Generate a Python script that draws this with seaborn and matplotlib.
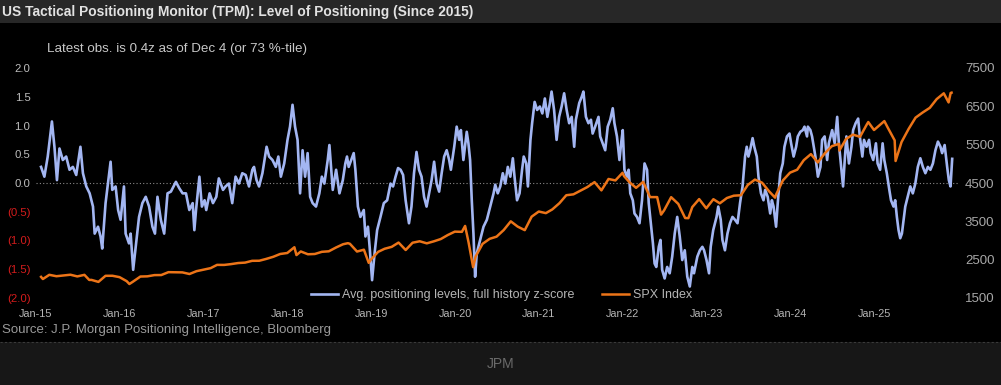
import numpy as np
import pandas as pd
import matplotlib
matplotlib.use("Agg")
import matplotlib.pyplot as plt
import matplotlib.dates as mdates
from matplotlib.patches import Rectangle
from matplotlib.lines import Line2D
import seaborn as sns

# ---------------- data ----------------
tpm_years = [
    2015.06, 2015.10, 2015.14, 2015.19, 2015.22, 2015.25, 2015.28, 2015.32, 2015.36, 2015.40,
    2015.44, 2015.48, 2015.53, 2015.56, 2015.60, 2015.64, 2015.68, 2015.70, 2015.74, 2015.77,
    2015.79, 2015.83, 2015.89, 2015.91, 2015.95, 2015.98, 2016.01, 2016.05, 2016.07, 2016.11,
    2016.13, 2016.16, 2016.19, 2016.23, 2016.27, 2016.31, 2016.35, 2016.39, 2016.42, 2016.45,
    2016.49, 2016.53, 2016.57, 2016.61, 2016.67, 2016.71, 2016.75,
    2016.79, 2016.83, 2016.87, 2016.89, 2016.91, 2016.95, 2016.98, 2017.01, 2017.03, 2017.07,
    2017.11, 2017.15, 2017.18, 2017.23, 2017.26, 2017.30, 2017.34, 2017.38, 2017.42, 2017.46,
    2017.50, 2017.54, 2017.58, 2017.60, 2017.63, 2017.66, 2017.70, 2017.75, 2017.78, 2017.82,
    2017.86, 2017.89, 2017.92, 2017.96, 2018.00, 2018.03, 2018.06, 2018.09, 2018.12, 2018.15,
    2018.18, 2018.21, 2018.24, 2018.27, 2018.30, 2018.34, 2018.38, 2018.41, 2018.44, 2018.48,
    2018.50, 2018.54, 2018.58, 2018.62, 2018.66, 2018.69,
    2018.71, 2018.73, 2018.79, 2018.81, 2018.84, 2018.87, 2018.91, 2018.93, 2018.96, 2018.98,
    2019.01, 2019.04, 2019.07, 2019.11, 2019.15, 2019.19, 2019.23, 2019.26, 2019.29, 2019.32,
    2019.35, 2019.38, 2019.41, 2019.45, 2019.48, 2019.51, 2019.54, 2019.57, 2019.60, 2019.63,
    2019.66, 2019.69, 2019.72, 2019.75, 2019.78, 2019.81, 2019.84, 2019.87, 2019.90, 2019.93,
    2019.95, 2019.99, 2020.02, 2020.05, 2020.07, 2020.10, 2020.14, 2020.16, 2020.18, 2020.20,
    2020.22, 2020.24, 2020.26, 2020.30, 2020.34, 2020.38, 2020.42, 2020.46, 2020.48, 2020.51,
    2020.54, 2020.57, 2020.60, 2020.63, 2020.66, 2020.69, 2020.71, 2020.74, 2020.77, 2020.80,
    2020.82, 2020.85, 2020.87, 2020.90, 2020.92, 2020.95, 2020.98, 2021.01, 2021.04, 2021.07,
    2021.10, 2021.13, 2021.15, 2021.18, 2021.21, 2021.24, 2021.27, 2021.30, 2021.33, 2021.36,
    2021.39, 2021.42, 2021.44, 2021.48, 2021.51, 2021.53, 2021.56, 2021.59, 2021.62, 2021.64,
    2021.67, 2021.71, 2021.73, 2021.76, 2021.79, 2021.82, 2021.85, 2021.88, 2021.90, 2021.93,
    2021.96, 2021.98, 2022.00, 2022.02, 2022.05, 2022.07, 2022.09, 2022.12, 2022.14, 2022.17,
    2022.20, 2022.23, 2022.26, 2022.29, 2022.31, 2022.34, 2022.36, 2022.38,
    2022.40, 2022.43, 2022.45, 2022.47, 2022.50, 2022.53, 2022.56, 2022.59, 2022.62, 2022.65,
    2022.68, 2022.71, 2022.74, 2022.77, 2022.80, 2022.83, 2022.85, 2022.89, 2022.92, 2022.95,
    2022.97, 2023.00, 2023.03, 2023.05, 2023.08, 2023.12, 2023.14, 2023.17, 2023.19, 2023.22,
    2023.25, 2023.28, 2023.31, 2023.34, 2023.37, 2023.40, 2023.43, 2023.46, 2023.48, 2023.50,
    2023.52, 2023.55, 2023.57, 2023.60, 2023.62, 2023.65, 2023.68, 2023.70, 2023.73, 2023.76,
    2023.78, 2023.80, 2023.83, 2023.85, 2023.88, 2023.91, 2023.93, 2023.96, 2023.99, 2024.01,
    2024.04, 2024.07, 2024.09, 2024.12, 2024.15, 2024.17, 2024.20,
    2024.21, 2024.24, 2024.26, 2024.30, 2024.33, 2024.36, 2024.38, 2024.41, 2024.44, 2024.46,
    2024.50, 2024.53, 2024.56, 2024.58, 2024.61, 2024.63, 2024.65, 2024.67, 2024.70, 2024.73,
    2024.75, 2024.78, 2024.81, 2024.83, 2024.86, 2024.88, 2024.91, 2024.94, 2024.96, 2024.99,
    2025.02, 2025.04, 2025.07, 2025.10, 2025.12, 2025.15, 2025.18, 2025.20, 2025.23, 2025.25,
    2025.27, 2025.29, 2025.31, 2025.33, 2025.35, 2025.37, 2025.41, 2025.43, 2025.46, 2025.49,
    2025.52, 2025.55, 2025.58, 2025.61, 2025.64, 2025.67, 2025.70, 2025.73, 2025.76, 2025.79,
    2025.81, 2025.84, 2025.87, 2025.89, 2025.91, 2025.93,
]
tpm_z = [
    0.28, 0.11, 0.46, 1.07, 0.63, 0.05, 0.60, 0.40, 0.46, 0.23,
    0.28, 0.14, 0.63, 0.17, -0.06, -0.18, -0.41, -0.88, -0.76, -0.93,
    -1.14, -0.35, 0.37, -0.12, -0.06, -0.47, -0.64, -0.06, -0.88, -1.05,
    -0.88, -1.51, -1.11, -0.59, -0.35, -0.24, -0.41, -0.76, -0.88, -0.24,
    -0.64, -0.88, -0.18, -0.15, 0.02, -0.09, -0.18,
    -0.18, -0.47, -0.35, -0.82, -0.47, 0.11, -0.41, -0.30, -0.47, -0.18,
    -0.35, -0.24, 0.08, -0.12, -0.06, -0.01, -0.35, 0.11, -0.01, 0.17,
    0.14, -0.06, 0.23, 0.28, 0.05, -0.06, 0.17, 0.63, 0.46, 0.40,
    0.28, 0.46, 0.11, 0.34, 0.75, 0.98, 1.36, 0.98, 0.75, -0.18,
    0.57, 0.11, 0.52, -0.24, -0.35, -0.41, -0.18, 0.11, -0.01, 0.40,
    0.66, -0.12, 0.23, -0.18, 0.05, 0.34,
    0.46, 0.28, 0.52, 0.23, -0.41, -0.59, -0.47, -0.93, -0.76, -1.11,
    -1.69, -1.22, -0.82, -0.59, -0.35, -0.30, -0.01, -0.06, 0.11, 0.26,
    0.23, 0.14, -0.30, -0.70, -0.41, 0.17, 0.54, 0.23, 0.11, -0.24,
    -0.41, -0.18, 0.05, 0.37, -0.01, -0.15, 0.17, 0.46, 0.57, 0.40,
    0.23, 0.63, 0.98, 0.75, 0.92, 0.40, 0.89, 0.69, 0.40, -0.30,
    -0.88, -1.63, -1.22, -0.99, -0.76, -0.64, -0.41, -0.18, -0.03, -0.18,
    -0.06, 0.17, -0.01, 0.28, 0.11, 0.43, 0.11, -0.30, -0.18, 0.23,
    0.46, 0.34, -0.06, 0.75, 1.04, 1.41, 1.27, 1.33, 1.21, 1.47,
    1.15, 1.39, 1.59, 1.27, 0.75, 1.15, 1.33, 1.56, 1.27, 1.04,
    1.15, 0.63, 1.10, 1.39, 1.50, 1.59, 1.15, 1.04, 1.10, 0.86,
    0.98, 1.15, 0.81, 0.69, 0.57, 0.98, 1.10, 1.30, 1.04, 0.81,
    0.40, 0.69, 0.92, 0.23, 0.11, 0.23, -0.18, -0.30, -0.53, -0.59,
    -0.70, -0.30, 0.34, 0.23, -0.35, -0.76, -1.05, -1.40,
    -1.46, -1.11, -0.99, -1.51, -1.66, -1.46, -1.57, -1.28, -0.88, -0.59,
    -0.93, -1.34, -1.17, -1.63, -1.80, -1.46, -1.57, -1.28, -1.17, -1.11,
    -1.17, -1.34, -1.57, -1.11, -0.82, -0.59, -0.41, -0.64, -0.99, -1.17,
    -0.88, -0.70, -0.59, -0.64, -0.70, -0.35, -0.06, 0.46, 0.63, 0.46,
    0.57, 0.78, 0.63, 0.46, 0.11, -0.18, -0.30, -0.12, -0.24, -0.53,
    -0.30, -0.41, -0.76, -0.35, 0.17, 0.34, 0.63, 0.81, 0.86, 0.69,
    0.46, 0.63, 0.81, 0.89, 0.92, 0.98, 0.81,
    0.98, 0.92, 0.81, 0.46, 0.11, 0.28, 0.75, 0.81, 0.40, 0.69,
    0.92, 0.69, 1.15, 0.69, 0.23, -0.06, 0.40, 0.81, 0.34, 0.63,
    0.92, 1.04, 1.12, 0.81, 0.46, 0.75, 0.63, 0.75, 0.52, 0.40,
    0.69, 0.34, 0.23, 0.69, 0.40, 0.17, -0.12, -0.30, -0.41, -0.30,
    -0.59, -0.82, -0.96, -0.88, -0.64, -0.41, -0.18, -0.06, -0.18, -0.01,
    0.28, 0.43, 0.28, 0.17, 0.28, 0.23, 0.34, 0.57, 0.72, 0.63,
    0.52, 0.66, 0.28, 0.05, -0.06, 0.42,
]

# SPX month-end closes, Jan-2015 ... Nov-2025
spx_month_start = "2015-01-31"
spx_month_values = [
    1995, 2105, 2068, 2086, 2107, 2063, 2104, 1972, 1920, 2079, 2080, 2044,
    1940, 1932, 2060, 2065, 2097, 2099, 2174, 2171, 2168, 2126, 2199, 2239,
    2279, 2364, 2363, 2384, 2412, 2423, 2470, 2472, 2519, 2575, 2648, 2674,
    2824, 2714, 2641, 2648, 2705, 2718, 2816, 2902, 2914, 2712, 2760, 2507,
    2704, 2784, 2834, 2946, 2752, 2942, 2980, 2926, 2977, 3038, 3141, 3231,
    3226, 2954, 2585, 2912, 3044, 3100, 3271, 3500, 3363, 3270, 3622, 3756,
    3714, 3811, 3973, 4181, 4204, 4298, 4395, 4523, 4308, 4605, 4567, 4766,
    4516, 4374, 4530, 4132, 4132, 3785, 4130, 3955, 3586, 3872, 4080, 3840,
    4077, 3970, 4109, 4169, 4180, 4450, 4589, 4508, 4288, 4194, 4568, 4770,
    4846, 5096, 5254, 5036, 5278, 5460, 5522, 5648, 5762, 5705, 6032, 5882,
    6041, 5955, 5612, 5569, 5912, 6205, 6339, 6460, 6688, 6840, 6849,
]
# additional weekly observations (turning points)
spx_extra_dates = [
    "2015-01-23", "2015-08-21", "2015-09-25", "2016-02-12", "2018-02-09", "2018-09-21",
    "2018-12-21", "2020-02-14", "2020-03-20", "2022-01-07", "2022-06-17", "2022-10-14",
    "2023-10-27", "2024-08-02", "2024-12-06", "2025-02-14", "2025-04-04", "2025-11-21",
    "2025-12-04",
]
spx_extra_values = [
    2051, 1971, 1931, 1865, 2620, 2930,
    2417, 3380, 2305, 4677, 3675, 3583,
    4117, 5347, 6090, 6115, 5074, 6602,
    6857,
]

x_tick_years = list(range(2015, 2026))
left_ticks = [2.0, 1.5, 1.0, 0.5, 0.0, -0.5, -1.0, -1.5, -2.0]
right_ticks = [7500, 6500, 5500, 4500, 3500, 2500, 1500]

title_text = "US Tactical Positioning Monitor (TPM): Level of Positioning (Since 2015)"
subtitle_text = "Latest obs. is 0.4z as of Dec 4 (or 73 %-tile)"
source_text = "Source: J.P. Morgan Positioning Intelligence, Bloomberg"
caption_text = "JPM"
label_tpm = "Avg. positioning levels, full history z-score"
label_spx = "SPX Index"


def dec_year_to_date(y):
    yr = int(np.floor(y))
    return pd.Timestamp(year=yr, month=1, day=1) + pd.Timedelta(days=(y - yr) * 365.25)


tpm_df = pd.DataFrame({"date": [dec_year_to_date(v) for v in tpm_years], "z": tpm_z})
spx_df = pd.concat([
    pd.DataFrame({"date": pd.date_range(spx_month_start, periods=len(spx_month_values), freq="ME"),
                  "spx": spx_month_values}),
    pd.DataFrame({"date": pd.to_datetime(spx_extra_dates), "spx": spx_extra_values}),
]).sort_values("date").reset_index(drop=True)

# ---------------- figure ----------------
W, H = 1001, 385
plt.rcParams["font.family"] = ["Liberation Sans", "DejaVu Sans"]
fig = plt.figure(figsize=(W / 100, H / 100), dpi=100, facecolor="black")

# title band and bottom caption band
fig.patches.append(Rectangle((0, 1 - 23 / H), 1, 23 / H, transform=fig.transFigure,
                             facecolor="#272727", edgecolor="none", zorder=0))
fig.patches.append(Rectangle((0, 0), 1, 43 / H, transform=fig.transFigure,
                             facecolor="#171717", edgecolor="none", zorder=0))
fig.add_artist(Line2D([0, 1], [43 / H, 43 / H], transform=fig.transFigure,
                      color="#3a3a3a", lw=0.8, ls=(0, (2, 2))))

ax = fig.add_axes([36 / W, 1 - 298 / H, 922 / W, 230 / H])
ax.set_facecolor("black")
ax2 = ax.twinx()
ax2.patch.set_alpha(0)

blue = "#a3b6f2"
orange = "#ec7418"

sns.lineplot(data=tpm_df, x="date", y="z", ax=ax, color=blue, lw=1.9,
             estimator=None, sort=False, legend=False)
sns.lineplot(data=spx_df, x="date", y="spx", ax=ax2, color=orange, lw=1.8,
             estimator=None, sort=False, legend=False)

ax.axhline(0, color="#8a8a8a", lw=0.8, ls=(0, (1, 2)), zorder=1)

ax.set_xlim(pd.Timestamp("2015-01-05"), pd.Timestamp("2026-01-01"))
ax.set_ylim(-2.0, 2.0)
ax2.set_ylim(1500, 7500)

ax.set_xticks([pd.Timestamp(year=y, month=1, day=1) for y in x_tick_years])
ax.xaxis.set_major_formatter(mdates.DateFormatter("%b-%y"))

ax.set_yticks(left_ticks)
ax.set_yticklabels([f"{v:.1f}" if v >= 0 else f"({abs(v):.1f})" for v in left_ticks])
ax2.set_yticks(right_ticks)
ax2.set_yticklabels([str(v) for v in right_ticks])

for a in (ax, ax2):
    a.set_xlabel("")
    a.set_ylabel("")
    for s in a.spines.values():
        s.set_visible(False)
    a.tick_params(length=0, labelsize=9.5, colors="#b5b5b5")
    a.grid(False)
ax.tick_params(axis="x", labelsize=7.8, pad=8, colors="#b5b5b5")
ax.tick_params(axis="y", pad=4, labelsize=8.2)
ax2.tick_params(axis="y", pad=5, colors="#a8a8a8")
for lab, v in zip(ax.get_yticklabels(), left_ticks):
    lab.set_color("#bdbdbd" if v >= 0 else "#d41c1c")

handles = [Line2D([], [], color=blue, lw=1.9), Line2D([], [], color=orange, lw=1.8)]
leg = ax2.legend(handles, [label_tpm, label_spx], loc="center", bbox_to_anchor=(0.505, 0.012),
                 ncol=2, frameon=False, fontsize=9, handlelength=2.2, columnspacing=2.2,
                 handletextpad=0.3, labelcolor="#b5b5b5")

fig.text(2 / W, 1 - 12 / H, title_text, color="#e2e2e2", fontsize=9.9, fontweight="bold",
         ha="left", va="center")
fig.text(47 / W, 1 - 49 / H, subtitle_text, color="#c8c8c8", fontsize=9.6, ha="left", va="center")
fig.text(2 / W, 1 - 330 / H, source_text, color="#9a9a9a", fontsize=9.5, ha="left", va="center")
fig.text(0.5, 1 - 364 / H, caption_text, color="#6a6a6a", fontsize=10, ha="center", va="center")

fig.savefig("out.png", dpi=100, facecolor=fig.get_facecolor())
